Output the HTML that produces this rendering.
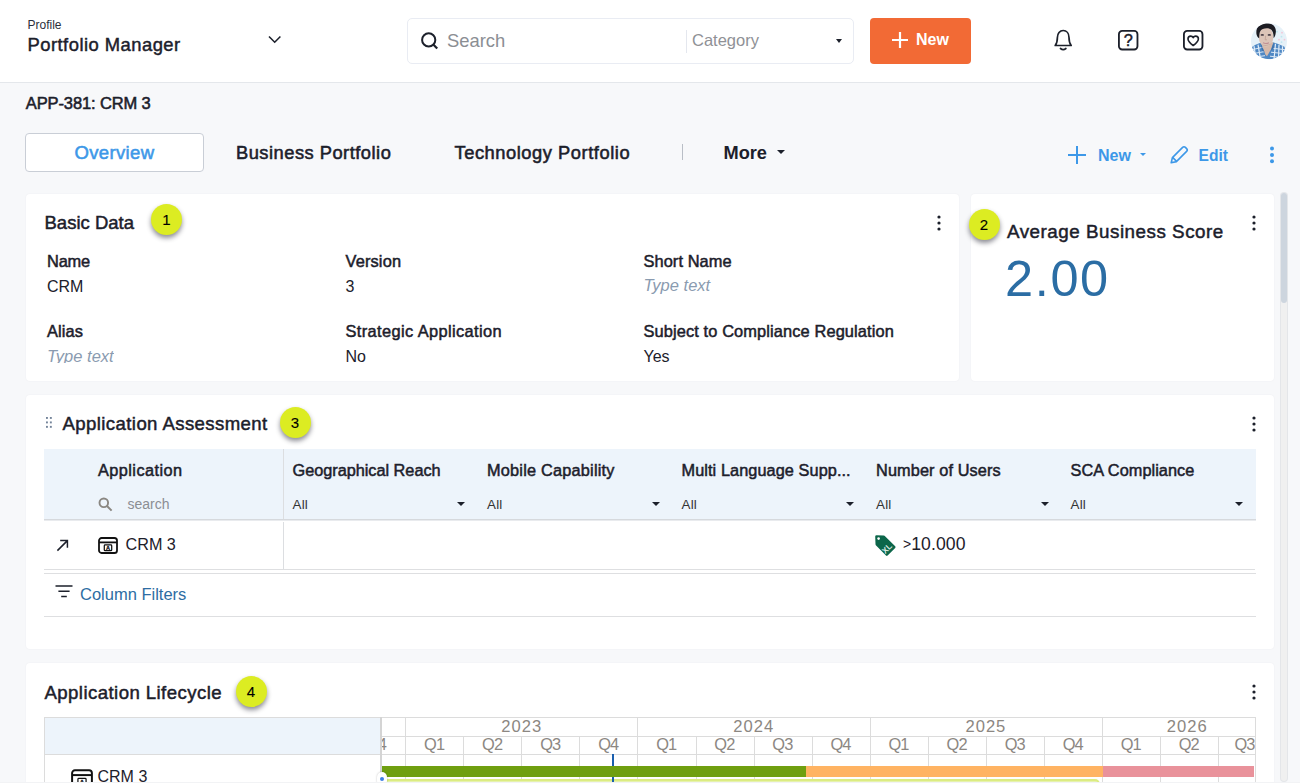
<!DOCTYPE html>
<html lang="en">
<head>
<meta charset="utf-8">
<title>APP-381: CRM 3</title>
<style>
*{box-sizing:border-box;margin:0;padding:0}
html,body{width:1300px;height:783px;overflow:hidden;background:#f7f8fa}
body{font-family:"Liberation Sans",Arial,sans-serif;color:#1c202b;position:relative}
.abs{position:absolute;white-space:nowrap;line-height:1}
.md{-webkit-text-stroke:0.45px currentColor}
.b{font-weight:700}
.sb{font-weight:400;-webkit-text-stroke:.48px currentColor}
svg{position:absolute;overflow:visible}
/* header */
#hdr{position:absolute;left:0;top:0;width:1300px;height:83px;background:#fff;border-bottom:1px solid #e4e7eb}
#sbox{position:absolute;left:407px;top:18px;width:447px;height:46px;border:1px solid #e9ecf3;border-radius:5px;background:#fff}
#newbtn{position:absolute;left:870px;top:18px;width:101px;height:46px;background:#f26a35;border-radius:4px}
/* tabs */
#tab1{position:absolute;left:25px;top:133px;width:179px;height:39px;background:#fff;border:1px solid #c9ced6;border-radius:4px}
.card{position:absolute;background:#fff;border-radius:4px;box-shadow:0 0 2px rgba(30,40,60,.06)}
.badge{position:absolute;width:31px;height:31px;border-radius:50%;background:#dcec22;box-shadow:0 3px 5px rgba(0,0,20,.45);font-size:15px;line-height:31px;text-align:center;color:#000;-webkit-text-stroke:.1px #000}
.lbl{font-weight:400;font-size:16.4px;-webkit-text-stroke:.5px currentColor}
.val{font-size:16px}
.ph{font-size:16.5px;font-style:italic;color:#8a9bb0}
.th{font-weight:400;font-size:16.3px;-webkit-text-stroke:.5px currentColor}
.all{font-size:13.4px;letter-spacing:.2px;color:#333;margin-top:.8px}
.caret{position:absolute;width:0;height:0;margin-left:-.5px;border-left:4px solid transparent;border-right:4px solid transparent;border-top:4.3px solid #1c202b}
.vl{position:absolute;width:1px;background:#dcdcdc}
.hl{position:absolute;height:1px;background:#dcdcdc}
.yr{font-size:16.6px;letter-spacing:1px;color:#8c8782}
.q{font-size:16.4px;letter-spacing:-.9px;color:#8c8782}
</style>
</head>
<body>
<!-- ===== HEADER ===== -->
<div id="hdr">
  <div class="abs" id="t_profile" style="left:27.5px;top:18.5px;font-size:12px;color:#2a2f3a">Profile</div>
  <div class="abs md" id="t_pm" style="left:27.5px;top:36px;font-size:18.4px;letter-spacing:.47px">Portfolio Manager</div>
  <svg style="left:267px;top:35px" width="16" height="10" viewBox="0 0 16 10"><path d="M2 1.5 L7.7 7.2 L13.4 1.5" fill="none" stroke="#1c202b" stroke-width="1.6"/></svg>
  <div id="sbox">
    <svg style="left:13px;top:13px" width="18" height="18" viewBox="0 0 18 18"><circle cx="7.7" cy="7.9" r="6.6" fill="none" stroke="#1c202b" stroke-width="2"/><path d="M12.3 12.6 L16.2 16.6" stroke="#1c202b" stroke-width="2.2"/></svg>
    <div class="abs" id="t_search" style="left:39px;top:13px;font-size:18.4px;color:#8b8e93">Search</div>
    <div style="position:absolute;left:278px;top:11px;width:1px;height:23px;background:#e4e7ee"></div>
    <div class="abs" id="t_cat" style="left:284px;top:13px;font-size:16.5px;color:#8f9196">Category</div>
    <div class="caret" style="left:428.5px;top:20px;border-left-width:3.5px;border-right-width:3.5px;border-top-width:4px"></div>
  </div>
  <div id="newbtn">
    <svg style="left:20.8px;top:13px" width="18" height="18" viewBox="0 0 18 18"><path d="M9 1 V17 M1 9 H17" stroke="#fff" stroke-width="2.2" fill="none"/></svg>
    <div class="abs b" id="t_new1" style="left:46px;top:14px;font-size:16px;color:#fff">New</div>
  </div>
  <!-- bell -->
  <svg style="left:1052.2px;top:28px" width="22.4" height="24" viewBox="0 0 22 24"><path d="M3 17.5 C5 15 5.2 13 5.2 9.5 C5.2 5.5 7.6 2.5 11 2.5 C14.4 2.5 16.8 5.5 16.8 9.5 C16.8 13 17 15 19 17.5 Z" fill="none" stroke="#1c202b" stroke-width="1.7" stroke-linejoin="round"/><path d="M8.3 20.5 Q11 22.6 13.7 20.5" fill="none" stroke="#1c202b" stroke-width="1.7" stroke-linecap="round"/></svg>
  <!-- help -->
  <svg style="left:1117.8px;top:29.8px" width="20.4" height="20.4" viewBox="0 0 20 20"><rect x="0.9" y="0.9" width="18.2" height="18.2" rx="3.2" fill="none" stroke="#1c202b" stroke-width="1.8"/><text x="10" y="15.4" text-anchor="middle" font-family="Liberation Sans" font-size="16" font-weight="400" stroke="#1c202b" stroke-width=".45" fill="#1c202b">?</text></svg>
  <!-- heart -->
  <svg style="left:1183px;top:29.8px" width="20.4" height="20.4" viewBox="0 0 20 20"><rect x="0.9" y="0.9" width="18.2" height="18.2" rx="3.2" fill="none" stroke="#1c202b" stroke-width="1.8"/><path d="M10 15.2 C7 13 4.9 11.2 4.9 8.8 C4.9 7.1 6.1 6 7.6 6 C8.7 6 9.5 6.6 10 7.6 C10.5 6.6 11.3 6 12.4 6 C13.9 6 15.1 7.1 15.1 8.8 C15.1 11.2 13 13 10 15.2 Z" fill="none" stroke="#1c202b" stroke-width="1.6" stroke-linejoin="round"/></svg>
  <!-- avatar -->
  <svg style="left:1250.9px;top:22.7px" width="36" height="36.4" viewBox="0 0 36 36"><defs><clipPath id="av"><circle cx="18" cy="18" r="18"/></clipPath><filter id="bl" x="-10%" y="-10%" width="120%" height="120%"><feGaussianBlur stdDeviation="0.55"/></filter></defs><g clip-path="url(#av)"><rect width="36" height="36" fill="#e6f1f8"/><g filter="url(#bl)"><circle cx="31" cy="9.5" r=".9" fill="#f3c6d8"/><circle cx="30.5" cy="13.5" r=".9" fill="#bfe6ef"/><circle cx="28" cy="16.5" r=".9" fill="#f3c6d8"/><circle cx="33.5" cy="16.5" r=".9" fill="#f3c6d8"/><circle cx="30.5" cy="19" r=".9" fill="#bfe6ef"/><circle cx="26" cy="8.5" r=".9" fill="#bfe6ef"/>
<path d="M0.5 24 Q4 21 9.5 19.5 L15 26 L22 19 Q29 21 33.5 23.5 L36 36 L0 36 Z" fill="#4f88c4"/>
<path d="M3 23 L5 36 M7 21.5 L9.5 36 M24.5 20.5 L23 36 M28 21.5 L27.5 36 M31.5 23 L31.5 36" stroke="#e4eef8" stroke-width="1.2" fill="none"/>
<path d="M1 26.5 L12 24 M1.5 30.5 L13 28.5 M3 34 L14 32.5 M21 25 L34 26.5 M20 29 L33.5 30.5 M19 33 L32 34.5" stroke="#dbe8f5" stroke-width="1" fill="none"/>
<path d="M10 19.5 L14.5 31.5 L16 33 L20 26 L22.5 19 Z" fill="#d6b9aa"/>
<path d="M9.5 20 L13.5 29 L11 27 Z M22.5 19.5 L20 27.5 L22.8 25 Z" fill="#3d6fa8"/>
<ellipse cx="15" cy="13.7" rx="7.3" ry="9.8" fill="#dcc4b8"/>
<path d="M5.5 11 C4.5 5 8 0.5 15 0 C21 -0.3 25.5 3 24.8 9 C24.6 12 23.6 14 22.6 15 C22.8 10 21.5 6.5 18.5 5.5 C15 4.6 10.5 5.5 9 8.5 C8.3 10.5 8.3 13 8.2 15 C6.5 14 5.8 12.5 5.5 11 Z" fill="#1c1b22"/>
<ellipse cx="11.3" cy="11.7" rx="1.7" ry=".9" fill="#4a3f48"/><ellipse cx="18.3" cy="11.7" rx="1.7" ry=".9" fill="#4a3f48"/>
<path d="M14.6 12.5 L14.2 16.6 L16 16.6" stroke="#bfa093" stroke-width=".8" fill="none"/>
<path d="M12 19.6 Q15 21 18 19.5" stroke="#c08f93" stroke-width="1.1" fill="none"/>
<path d="M9.5 20.5 Q15 25.5 20.8 20 Q15 23.2 9.5 20.5 Z" fill="#b89a8e" opacity=".6"/>
</g></g></svg>
</div>

<!-- ===== PAGE TITLE + TABS ===== -->
<div class="abs md" id="t_app" style="left:25.8px;top:95.3px;font-size:16.5px;letter-spacing:-.12px;-webkit-text-stroke-width:.55px">APP-381: CRM 3</div>
<div id="tab1"></div>
<div class="abs md" id="t_ov" style="-webkit-text-stroke-width:.55px;left:74.5px;top:143.6px;font-size:18.5px;letter-spacing:.35px;color:#3d98e8">Overview</div>
<div class="abs md" id="t_bp" style="-webkit-text-stroke-width:.55px;left:236px;top:143.6px;font-size:18.3px;letter-spacing:.5px">Business Portfolio</div>
<div class="abs md" id="t_tp" style="-webkit-text-stroke-width:.55px;left:454.5px;top:143.6px;font-size:18.3px;letter-spacing:.55px">Technology Portfolio</div>
<div style="position:absolute;left:682px;top:144px;width:1px;height:16px;background:#b9bec6"></div>
<div class="abs b" id="t_more" style="left:723.5px;top:143.6px;font-size:18.2px">More</div>
<div class="caret" style="left:777px;top:150px"></div>

<svg style="left:1067px;top:145px" width="20" height="20" viewBox="0 0 20 20"><path d="M10 1 V19 M1 10 H19" stroke="#3d98e8" stroke-width="2" fill="none"/></svg>
<div class="abs b" id="t_new2" style="left:1098px;top:147.5px;font-size:16px;color:#3d98e8">New</div>
<div class="caret" style="left:1140.5px;top:153.3px;border-top-color:#3d98e8;border-left-width:3.3px;border-right-width:3.3px;border-top-width:3.9px"></div>
<svg style="left:1169px;top:145px" width="20" height="20" viewBox="0 0 20 20"><path d="M2.2 17.8 L3.4 12.6 L13.6 2.4 Q15 1 16.4 2.4 L17.6 3.6 Q19 5 17.6 6.4 L7.4 16.6 Z M3.6 12.4 L7.6 16.4" fill="none" stroke="#3d98e8" stroke-width="1.6" stroke-linejoin="round"/></svg>
<div class="abs b" id="t_edit" style="left:1198.5px;top:147.5px;font-size:15.6px;color:#3d98e8">Edit</div>
<svg style="left:1268.5px;top:146px" width="6" height="18" viewBox="0 0 6 18"><circle cx="3" cy="2.6" r="2" fill="#3d98e8"/><circle cx="3" cy="9" r="2" fill="#3d98e8"/><circle cx="3" cy="15.3" r="2" fill="#3d98e8"/></svg>

<!-- scrollbar -->
<div style="position:absolute;left:1280.5px;top:193px;width:6px;height:588px;background:#f0f0f0;border-radius:3px;box-shadow:0 0 0 1px #e4e6e9"></div>
<div style="position:absolute;left:1280.5px;top:193px;width:6.3px;height:110px;background:#cdd5de;border-radius:3px"></div>

<!-- ===== BASIC DATA ===== -->
<div class="card" id="c1" style="left:26px;top:194px;width:933px;height:187px;overflow:hidden">
  <div class="abs sb" id="t_bd" style="left:18.5px;top:19.9px;font-size:18.5px">Basic Data</div>
  <div class="badge" style="left:125px;top:10px">1</div>
  <svg style="left:910px;top:21px" width="6" height="16" viewBox="0 0 6 16"><circle cx="3" cy="2" r="1.6" fill="#1c202b"/><circle cx="3" cy="8" r="1.6" fill="#1c202b"/><circle cx="3" cy="14" r="1.6" fill="#1c202b"/></svg>

  <div class="abs lbl" id="t_name" style="left:21px;top:58.7px;letter-spacing:-0.20px">Name</div>
  <div class="abs val" style="left:21px;top:84.6px">CRM</div>
  <div class="abs lbl" style="left:21px;top:128.7px;letter-spacing:0.08px">Alias</div>
  <div class="abs ph" style="left:21px;top:153.5px;height:15px;overflow:hidden">Type text</div>

  <div class="abs lbl" style="left:319.5px;top:58.7px;letter-spacing:0.14px">Version</div>
  <div class="abs val" style="left:319.5px;top:84.6px">3</div>
  <div class="abs lbl" id="t_sa" style="left:319.5px;top:128.7px;letter-spacing:0.38px">Strategic Application</div>
  <div class="abs val" style="left:319.5px;top:154.5px">No</div>

  <div class="abs lbl" style="left:617.5px;top:58.7px;letter-spacing:0.07px">Short Name</div>
  <div class="abs ph" style="left:617.5px;top:83px">Type text</div>
  <div class="abs lbl" id="t_scr" style="left:617.5px;top:128.7px;letter-spacing:0.11px">Subject to Compliance Regulation</div>
  <div class="abs val" style="left:617.5px;top:154.5px">Yes</div>
</div>

<!-- ===== AVG SCORE ===== -->
<div class="card" id="c2" style="left:971px;top:194px;width:303px;height:187px">
  <div class="badge" style="left:-2.5px;top:15px">2</div>
  <div class="abs sb" id="t_abs" style="left:36px;top:29.4px;font-size:18.8px;letter-spacing:.52px">Average Business Score</div>
  <div class="abs" id="t_score" style="left:34.1px;top:60.2px;font-size:50.5px;letter-spacing:1.6px;color:#2b6da4">2.00</div>
  <svg style="left:280px;top:21px" width="6" height="16" viewBox="0 0 6 16"><circle cx="3" cy="2" r="1.6" fill="#1c202b"/><circle cx="3" cy="8" r="1.6" fill="#1c202b"/><circle cx="3" cy="14" r="1.6" fill="#1c202b"/></svg>
</div>

<!-- ===== APPLICATION ASSESSMENT ===== -->
<div class="card" id="c3" style="left:26px;top:395px;width:1248px;height:254px">
  <svg style="left:19.8px;top:21.9px" width="6" height="11" viewBox="0 0 6 11"><g fill="#74849a"><rect x="0" y="0" width="1.9" height="1.9"/><rect x="3.9" y="0" width="1.9" height="1.9"/><rect x="0" y="4.45" width="1.9" height="1.9"/><rect x="3.9" y="4.45" width="1.9" height="1.9"/><rect x="0" y="8.9" width="1.9" height="1.9"/><rect x="3.9" y="8.9" width="1.9" height="1.9"/></g></svg>
  <div class="abs sb" id="t_aa" style="left:36.5px;top:20.2px;font-size:18.6px;letter-spacing:.4px">Application Assessment</div>
  <div class="badge" style="left:253.5px;top:12px">3</div>
  <svg style="left:1225px;top:21px" width="6" height="16" viewBox="0 0 6 16"><circle cx="3" cy="2" r="1.6" fill="#1c202b"/><circle cx="3" cy="8" r="1.6" fill="#1c202b"/><circle cx="3" cy="14" r="1.6" fill="#1c202b"/></svg>

  <!-- table header -->
  <div style="position:absolute;left:18px;top:54px;width:1212px;height:71px;background:#edf4fb;border-bottom:1px solid #d6d9dd;box-shadow:0 1px 0 #e9ebee"></div>
  <div class="vl" style="left:257px;top:54px;height:70px;background:#dcdee1"></div><div class="vl" style="left:257px;top:127px;height:48px;background:#dcdee1"></div>
  <div class="abs th" id="t_happ" style="left:72px;top:67px;letter-spacing:0.44px">Application</div>
  <svg style="left:72px;top:102px" width="15" height="15" viewBox="0 0 15 15"><circle cx="5.8" cy="5.8" r="4.3" fill="none" stroke="#8a8782" stroke-width="1.9"/><path d="M9 9 L13.6 13.6" stroke="#8a8782" stroke-width="2"/></svg>
  <div class="abs" id="t_s2" style="left:101.5px;top:102px;font-size:14px;color:#8b8e93">search</div>

  <div class="abs th" id="t_geo" style="left:266.5px;top:67px;letter-spacing:-0.02px">Geographical Reach</div>
  <div class="abs all" style="left:266.5px;top:102px">All</div>
  <div class="caret" style="left:431.5px;top:106.5px"></div>

  <div class="abs th" style="left:461px;top:67px;letter-spacing:0.22px">Mobile Capability</div>
  <div class="abs all" style="left:461px;top:102px">All</div>
  <div class="caret" style="left:626px;top:106.5px"></div>

  <div class="abs th" id="t_ml" style="left:655.5px;top:67px;letter-spacing:0.08px">Multi Language Supp...</div>
  <div class="abs all" style="left:655.5px;top:102px">All</div>
  <div class="caret" style="left:820.5px;top:106.5px"></div>

  <div class="abs th" style="left:850px;top:67px;letter-spacing:0.12px">Number of Users</div>
  <div class="abs all" style="left:850px;top:102px">All</div>
  <div class="caret" style="left:1015px;top:106.5px"></div>

  <div class="abs th" style="left:1044.5px;top:67px;letter-spacing:0.06px">SCA Compliance</div>
  <div class="abs all" style="left:1044.5px;top:102px">All</div>
  <div class="caret" style="left:1209.5px;top:106.5px"></div>

  <!-- row -->
  <svg style="left:29.8px;top:144.3px" width="13" height="13" viewBox="0 0 14 14"><path d="M1.5 12.5 L12 2 M4.5 1.7 H12.3 V9.5" fill="none" stroke="#1c202b" stroke-width="1.6"/></svg>
  <svg style="left:71.5px;top:142px" width="20" height="17" viewBox="0 0 20 17"><rect x="1" y="1" width="18" height="15" rx="2.6" fill="none" stroke="#111" stroke-width="1.8"/><path d="M1 5.4 H19" stroke="#111" stroke-width="1.8"/><rect x="6.3" y="7.9" width="7.4" height="5.8" rx=".8" fill="none" stroke="#111" stroke-width="1.25"/><text x="10" y="12.9" font-size="5.6" font-weight="700" stroke="#111" stroke-width=".3" font-family="Liberation Sans" fill="#111" text-anchor="middle">A</text></svg>
  <div class="abs" id="t_crm3" style="left:99.5px;top:140.8px;font-size:16.2px">CRM 3</div>
  <svg style="left:848px;top:139px" width="23" height="23" viewBox="0 0 23 23"><path d="M1.2 2.6 Q1.2 1.2 2.6 1.2 L9.6 1.6 Q10.6 1.7 11.3 2.4 L21.2 12.3 Q22 13.1 21.2 13.9 L13.6 21.5 Q12.8 22.3 12 21.5 L2.1 11.6 Q1.5 10.9 1.5 9.9 Z" fill="#0c664a"/><circle cx="4.6" cy="4.6" r="1.3" fill="#fff"/><text transform="translate(11.2 20.2) rotate(-45)" font-size="8.2" font-weight="700" font-family="Liberation Sans" fill="#dcebe4">XL</text></svg>
  <div class="abs" id="t_10k" style="left:877px;top:140.7px;font-size:17.6px;letter-spacing:.1px"><span style="font-size:14px;letter-spacing:0;position:relative;top:-1px">&gt;</span>10.000</div>

  <div class="hl" style="left:18px;top:174px;width:1211px;background:#dedfe1"></div>
  <div class="hl" style="left:18px;top:178px;width:1212px;background:#dedfe1"></div>

  <svg style="left:29px;top:190px" width="18" height="13" viewBox="0 0 18 13"><path d="M0.5 1 H17.5 M3.4 6.3 H14.6 M6.2 11.6 H11.8" stroke="#1c202b" stroke-width="1.5" fill="none"/></svg>
  <div class="abs" id="t_cf" style="left:54px;top:191px;font-size:16.5px;color:#2d6da3">Column Filters</div>
  <div class="hl" style="left:18px;top:221px;width:1212px;background:#dedfe1"></div>
</div>

<!-- ===== LIFECYCLE ===== -->
<div class="card" id="c4" style="left:26px;top:662.5px;width:1248px;height:140px">
  <div class="abs sb" id="t_al" style="left:18.5px;top:21.1px;font-size:18.6px;letter-spacing:.43px">Application Lifecycle</div>
  <div class="badge" style="left:209.5px;top:13.5px">4</div>
  <svg style="left:1225px;top:21px" width="6" height="16" viewBox="0 0 6 16"><circle cx="3" cy="2" r="1.6" fill="#1c202b"/><circle cx="3" cy="8" r="1.6" fill="#1c202b"/><circle cx="3" cy="14" r="1.6" fill="#1c202b"/></svg>
</div>
<!-- gantt, page-absolute coords -->
<div style="position:absolute;left:0;top:782px;width:1300px;height:1px;background:#f2f3f5;z-index:5"></div>
<div id="gantt" style="position:absolute;left:44px;top:717px;width:1212px;height:66px;overflow:hidden">
<div style="position:absolute;left:1px;top:1px;width:336px;height:36px;background:#edf4fb;"></div>
<div style="position:absolute;left:0px;top:0px;width:1212px;height:1px;background:#dcdcdc;"></div>
<div style="position:absolute;left:0px;top:0px;width:1px;height:70px;background:#dcdcdc;"></div>
<div style="position:absolute;left:1211px;top:0px;width:1px;height:70px;background:#dcdcdc;"></div>
<div style="position:absolute;left:0px;top:37px;width:1212px;height:1px;background:#dcdcdc;"></div>
<div style="position:absolute;left:337px;top:19px;width:875px;height:1px;background:#dcdcdc;"></div>
<div style="position:absolute;left:361px;top:0px;width:1px;height:70px;background:#dcdcdc;"></div>
<div style="position:absolute;left:419px;top:19px;width:1px;height:51px;background:#dcdcdc;"></div>
<div style="position:absolute;left:477px;top:19px;width:1px;height:51px;background:#dcdcdc;"></div>
<div style="position:absolute;left:535px;top:19px;width:1px;height:51px;background:#dcdcdc;"></div>
<div style="position:absolute;left:593px;top:0px;width:1px;height:70px;background:#dcdcdc;"></div>
<div style="position:absolute;left:652px;top:19px;width:1px;height:51px;background:#dcdcdc;"></div>
<div style="position:absolute;left:710px;top:19px;width:1px;height:51px;background:#dcdcdc;"></div>
<div style="position:absolute;left:768px;top:19px;width:1px;height:51px;background:#dcdcdc;"></div>
<div style="position:absolute;left:826px;top:0px;width:1px;height:70px;background:#dcdcdc;"></div>
<div style="position:absolute;left:884px;top:19px;width:1px;height:51px;background:#dcdcdc;"></div>
<div style="position:absolute;left:942px;top:19px;width:1px;height:51px;background:#dcdcdc;"></div>
<div style="position:absolute;left:1000px;top:19px;width:1px;height:51px;background:#dcdcdc;"></div>
<div style="position:absolute;left:1058px;top:0px;width:1px;height:70px;background:#dcdcdc;"></div>
<div style="position:absolute;left:1116px;top:19px;width:1px;height:51px;background:#dcdcdc;"></div>
<div style="position:absolute;left:1174px;top:19px;width:1px;height:51px;background:#dcdcdc;"></div>
<div style="position:absolute;left:336px;top:0px;width:2px;height:70px;background:#d4d4d4;"></div>
<div class="abs yr" style="left:447.7px;top:2.3px;width:60px;text-align:center">2023</div>
<div class="abs yr" style="left:679.7px;top:2.3px;width:60px;text-align:center">2024</div>
<div class="abs yr" style="left:911.9px;top:2.3px;width:60px;text-align:center">2025</div>
<div class="abs yr" style="left:1113.2px;top:2.3px;width:60px;text-align:center">2026</div>
<div style="position:absolute;left:338px;top:0;width:873px;height:70px;overflow:hidden">
<div class="abs q" style="left:-36.0px;top:19.4px;width:60px;text-align:center">Q4</div>
<div class="abs q" style="left:22.1px;top:19.4px;width:60px;text-align:center">Q1</div>
<div class="abs q" style="left:80.1px;top:19.4px;width:60px;text-align:center">Q2</div>
<div class="abs q" style="left:138.2px;top:19.4px;width:60px;text-align:center">Q3</div>
<div class="abs q" style="left:196.2px;top:19.4px;width:60px;text-align:center">Q4</div>
<div class="abs q" style="left:254.3px;top:19.4px;width:60px;text-align:center">Q1</div>
<div class="abs q" style="left:312.4px;top:19.4px;width:60px;text-align:center">Q2</div>
<div class="abs q" style="left:370.4px;top:19.4px;width:60px;text-align:center">Q3</div>
<div class="abs q" style="left:428.5px;top:19.4px;width:60px;text-align:center">Q4</div>
<div class="abs q" style="left:486.5px;top:19.4px;width:60px;text-align:center">Q1</div>
<div class="abs q" style="left:544.6px;top:19.4px;width:60px;text-align:center">Q2</div>
<div class="abs q" style="left:602.7px;top:19.4px;width:60px;text-align:center">Q3</div>
<div class="abs q" style="left:660.7px;top:19.4px;width:60px;text-align:center">Q4</div>
<div class="abs q" style="left:718.8px;top:19.4px;width:60px;text-align:center">Q1</div>
<div class="abs q" style="left:776.8px;top:19.4px;width:60px;text-align:center">Q2</div>
<div class="abs q" style="left:832.5px;top:19.4px;width:60px;text-align:center">Q3</div>
</div>
<div style="position:absolute;left:339px;top:62.3px;width:717px;height:10px;background:#e6f2ae;border-radius:5px;border:2px solid #dcec82"></div>
<div style="position:absolute;left:568px;top:37px;width:2px;height:40px;background:#1b5fae;"></div>
<div style="position:absolute;left:338px;top:49px;width:424px;height:11.3px;background:#6f9f10;"></div>
<div style="position:absolute;left:762px;top:49px;width:297px;height:11.3px;background:#ffb362;"></div>
<div style="position:absolute;left:1059px;top:49px;width:151px;height:11.3px;background:#e9929b;"></div>
<div style="position:absolute;left:332.8px;top:54.5px;width:10px;height:14px;border-radius:5px;background:#fff;box-shadow:0 0 2px rgba(0,0,0,.25)"></div>
<div style="position:absolute;left:335.6px;top:60px;width:4.4px;height:4.4px;border-radius:50%;background:#3f7fe6"></div>
<svg style="left:27px;top:51.60000000000002px" width="22" height="19" viewBox="0 0 20 17"><rect x="1" y="1" width="18" height="15" rx="2.6" fill="none" stroke="#111" stroke-width="1.8"/><path d="M1 5.4 H19" stroke="#111" stroke-width="1.8"/><rect x="6.3" y="8.3" width="7.4" height="5.8" rx=".8" fill="none" stroke="#111" stroke-width="1.1"/><text x="10" y="13.3" font-size="5.6" font-weight="700" stroke="#111" stroke-width=".3" font-family="Liberation Sans" fill="#111" text-anchor="middle">A</text></svg>
<div class="abs" id="t_gcrm" style="left:53.5px;top:51.700000000000045px;font-size:16px">CRM 3</div>
</div>
</body>
</html>
